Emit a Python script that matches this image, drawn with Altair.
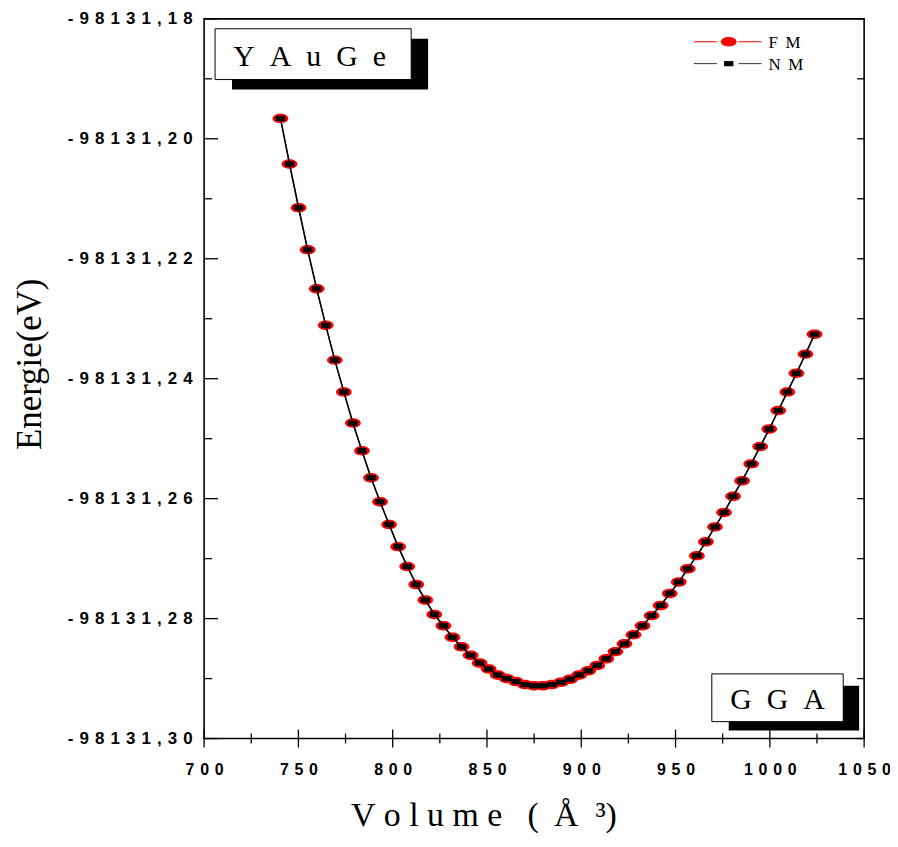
import altair as alt
import pandas as pd

# ---- data ----
volume = [740.5, 745.3, 750.1, 754.9, 759.7, 764.5, 769.3, 774.1, 778.9, 783.7,
          788.5, 793.3, 798.1, 802.9, 807.7, 812.5, 817.3, 822.1, 826.9, 831.7,
          836.5, 841.3, 846.1, 850.9, 855.7, 860.5, 865.3, 870.1, 874.9, 879.7,
          884.5, 889.3, 894.1, 898.9, 903.7, 908.5, 913.3, 918.1, 922.9, 927.7,
          932.5, 937.3, 942.1, 946.9, 951.7, 956.5, 961.3, 966.1, 970.9, 975.7,
          980.5, 985.3, 990.1, 994.9, 999.7, 1004.5, 1009.3, 1014.1, 1018.9, 1023.7]

energy_fm = [-98131.1966, -98131.2042, -98131.2115, -98131.2185, -98131.2250,
             -98131.2311, -98131.2369, -98131.2422, -98131.2474, -98131.2520,
             -98131.2565, -98131.2605, -98131.2643, -98131.2680, -98131.2713,
             -98131.2743, -98131.2769, -98131.2793, -98131.2812, -98131.2831,
             -98131.2847, -98131.2861, -98131.2874, -98131.2884, -98131.2894,
             -98131.2900, -98131.2905, -98131.2910, -98131.2912, -98131.2912,
             -98131.2910, -98131.2906, -98131.2901, -98131.2894, -98131.2887,
             -98131.2878, -98131.2867, -98131.2855, -98131.2842, -98131.2827,
             -98131.2812, -98131.2795, -98131.2778, -98131.2758, -98131.2739,
             -98131.2717, -98131.2695, -98131.2672, -98131.2647, -98131.2623,
             -98131.2596, -98131.2570, -98131.2542, -98131.2513, -98131.2484,
             -98131.2453, -98131.2422, -98131.2391, -98131.2359, -98131.2326]

# NM curve lies exactly on top of the FM curve in the picture
energy_nm = list(energy_fm)

x_major = [700, 750, 800, 850, 900, 950, 1000, 1050]
x_minor = [725, 775, 825, 875, 925, 975, 1025]
y_major = [-98131.30, -98131.28, -98131.26, -98131.24, -98131.22, -98131.20, -98131.18]
y_minor = [-98131.29, -98131.27, -98131.25, -98131.23, -98131.21, -98131.19]

series_names = ["F M", "N M"]
box_labels = ["Y A u G e", "G G A"]
y_title = "Energie(eV)"

# ---- layout ----
W, H = 663, 723
NB = "\u00a0"
TH = "\u2009"
HAIR = "\u200a"
SEP = NB + HAIR

xs = alt.Scale(domain=[700, 1050], nice=False, zero=False)
ys = alt.Scale(domain=[-98131.30, -98131.18], nice=False, zero=False)

label_common = dict(ticks=False, domain=False, grid=False, tickSize=0, labelFlush=False,
                    labelOverlap=False,
                    labelFont="Liberation Sans", labelFontWeight="bold",
                    labelColor="black", title=None)

x_axis = alt.Axis(values=x_major, labelPadding=23, labelFontSize=16,
                  labelExpr=f"join(split(format(datum.value,'d'),''),'{SEP}')",
                  **label_common)
y_axis = alt.Axis(values=y_major, labelPadding=12, labelFontSize=17,
                  labelExpr=("join(split(replace(replace(format(datum.value,'.2f'),'\u2212','-'),'.',','),''),"
                             f"'{SEP}')"),
                  **label_common)

df_fm = pd.DataFrame({"V": volume, "E": energy_fm})
df_nm = pd.DataFrame({"V": volume, "E": energy_nm})

ELLIPSE = "M -1 0 A 1 0.6 0 1 1 1 0 A 1 0.6 0 1 1 -1 0 Z"
RECT = "M -1 -0.55 L 1 -0.55 L 1 0.55 L -1 0.55 Z"

X = alt.X("V:Q", scale=xs, axis=x_axis)
Y = alt.Y("E:Q", scale=ys, axis=y_axis)

fm_line = alt.Chart(df_fm).mark_line(color="red", strokeWidth=1).encode(x=X, y=Y)
fm_pts = alt.Chart(df_fm).mark_point(shape=ELLIPSE, filled=True, size=250,
                                     color="red", opacity=1, strokeWidth=0).encode(x=X, y=Y)
nm_line = alt.Chart(df_nm).mark_line(color="black", strokeWidth=1.6).encode(x=X, y=Y)
nm_pts = alt.Chart(df_nm).mark_point(shape=RECT, filled=True, size=90,
                                     color="black", opacity=1, strokeWidth=0).encode(x=X, y=Y)

# ---- tick marks (inward / crossing) ----
Xt = alt.X("V:Q", scale=xs, title=None)
Yt = alt.Y("E:Q", scale=ys, title=None)
xmaj = alt.Chart(pd.DataFrame({"V": x_major})).mark_rule(color="black", strokeWidth=1.3).encode(
    x=Xt, y=alt.value(H - 9), y2=alt.value(H + 9))
xmin = alt.Chart(pd.DataFrame({"V": x_minor})).mark_rule(color="black", strokeWidth=1.3).encode(
    x=Xt, y=alt.value(H - 5), y2=alt.value(H + 5))
ymaj = alt.Chart(pd.DataFrame({"E": y_major})).mark_rule(color="black", strokeWidth=1.3).encode(
    y=Yt, x=alt.value(0), x2=alt.value(14))
ymin = alt.Chart(pd.DataFrame({"E": y_minor})).mark_rule(color="black", strokeWidth=1.3).encode(
    y=Yt, x=alt.value(0), x2=alt.value(8))
yright = alt.Chart(pd.DataFrame({"E": y_major + y_minor})).mark_rule(color="black", strokeWidth=1.3).encode(
    y=Yt, x=alt.value(W - 7), x2=alt.value(W))

one = pd.DataFrame({"a": [0]})


def rect(x1, x2, y1, y2, fill, stroke=None):
    kw = dict(fill=fill)
    if stroke:
        kw.update(stroke=stroke, strokeWidth=1)
    return alt.Chart(one).mark_rect(**kw).encode(
        x=alt.value(x1), x2=alt.value(x2), y=alt.value(y1), y2=alt.value(y2))


def text(s, x, y, size, font="Liberation Serif", angle=None, baseline="alphabetic", align="center"):
    kw = dict(text=s, font=font, fontSize=size, color="black", align=align, baseline=baseline)
    if angle is not None:
        kw["angle"] = angle
    return alt.Chart(one).mark_text(**kw).encode(x=alt.value(x), y=alt.value(y))


def nbsp(s, n=2):
    return s.replace(" ", NB * n)


box1 = rect(28, 225, 20, 71, "black") + rect(11, 208, 10, 61, "white", "black") + \
    text(nbsp(box_labels[0]), 106, 47, 30)
box2 = rect(527, 658, 670, 715, "black") + rect(510, 642, 658, 706, "white", "black") + \
    text(nbsp(box_labels[1]), 576, 693, 30)

# legend
leg = []
for i, (col, shape, size) in enumerate([("red", ELLIPSE, 250), ("black", RECT, 90)]):
    yy = 23 + 22 * i
    lc = "red" if i == 0 else "#333333"
    leg.append(alt.Chart(one).mark_rule(color=lc, strokeWidth=1).encode(
        x=alt.value(492), x2=alt.value(515), y=alt.value(yy)))
    leg.append(alt.Chart(one).mark_rule(color=lc, strokeWidth=1).encode(
        x=alt.value(537), x2=alt.value(560), y=alt.value(yy)))
    leg.append(alt.Chart(one).mark_point(shape=shape, filled=True, size=size, color=col,
                                         opacity=1, strokeWidth=0).encode(
        x=alt.value(527), y=alt.value(yy)))
    leg.append(text(series_names[i].replace(" ", NB + TH), 567, yy + 6, 17, align="left"))

# x title "V o l u m e ( Å ³)" with custom spacing
x_title = ("V" + NB + "o" + NB + "l" + NB + "u" + NB + "m" + NB + "e" + NB * 3 +
           "(" + NB + TH + "Å" + NB * 2 + "³)")

titles = text(y_title, -175, 347, 35, angle=270, baseline="middle") + \
    text(x_title, 281, 811, 34)

chart = alt.layer(
    fm_line, fm_pts, nm_line, nm_pts,
    xmaj, xmin, ymaj, ymin, yright,
    box1, box2, *leg, titles,
).properties(
    width=W, height=H,
    padding={"left": 197, "top": 9, "right": 26, "bottom": 99},
    autosize=alt.AutoSizeParams(type="none"),
    background="white",
).configure_view(stroke="black", strokeWidth=1.6)

chart.save("out.html", embed_options={"renderer": "svg", "actions": False})
